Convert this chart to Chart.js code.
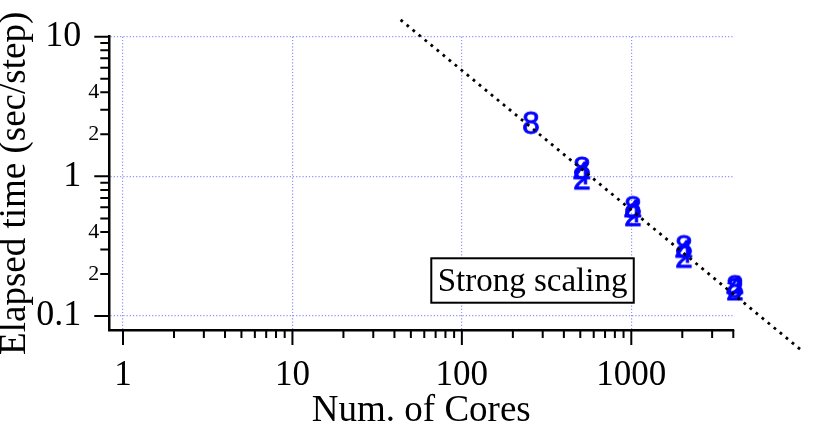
<!DOCTYPE html>
<html>
<head>
<meta charset="utf-8">
<script src="https://cdn.jsdelivr.net/npm/chart.js@4.4.1/dist/chart.umd.min.js"></script>
<style>
  html, body { margin: 0; padding: 0; background: #fff; }
</style>
</head>
<body>
<canvas id="scaling-chart" width="822" height="433"></canvas>
<script>
// Strong scaling data (elapsed time per step vs number of cores)
const cores = [256, 512, 1024, 2048, 4096];
const time8 = [2.42, 1.15, 0.60, 0.315, 0.163];
const time4 = [null, 1.06, 0.565, 0.29, 0.160];
const time2 = [null, 0.97, 0.53, 0.267, 0.156];

// ideal scaling guide line (end points)
const fitCores = [43.5, 10400];
const fitTime = [13.2, 0.0552];

const xTicks = [1, 2, 3, 4, 5, 6, 7, 8, 9,
  10, 20, 30, 40, 50, 60, 70, 80, 90,
  100, 200, 300, 400, 500, 600, 700, 800, 900,
  1000, 2000, 3000, 4000];
const yTicks = [0.1, 0.2, 0.3, 0.4, 0.5, 0.6, 0.7, 0.8, 0.9,
  1, 2, 3, 4, 5, 6, 7, 8, 9, 10];
const xLabels = { 1: '1', 10: '10', 100: '100', 1000: '1000' };
const yLabels = { 0.1: '0.1', 0.2: '2', 0.4: '4', 1: '1', 2: '2', 4: '4', 10: '10' };

const serif = '"Liberation Serif", "Times New Roman", serif';
const gridColor = 'rgb(145, 145, 255)';

function isDecade(v) {
  if (v === undefined || v === null) return false;
  const l = Math.log10(v);
  return Math.abs(l - Math.round(l)) < 1e-6;
}

function toPoints(values) {
  const pts = [];
  values.forEach(function(v, i) {
    if (v !== null) pts.push({ x: cores[i], y: v });
  });
  return pts;
}

// digit used as a marker
function digitMarker(ch) {
  const c = document.createElement('canvas');
  c.width = 28;
  c.height = 34;
  const g = c.getContext('2d');
  g.font = '32px "Liberation Sans", Arial, sans-serif';
  g.fillStyle = '#0000ff';
  g.strokeStyle = '#0000ff';
  g.lineWidth = 0.8;
  g.textAlign = 'center';
  const m = g.measureText(ch);
  const asc = m.actualBoundingBoxAscent || 23;
  const desc = m.actualBoundingBoxDescent || 0;
  const by = c.height / 2 + (asc - desc) / 2;
  g.fillText(ch, c.width / 2, by);
  g.strokeText(ch, c.width / 2, by);
  return c;
}

// tick marks and the label box
const extras = {
  id: 'extras',
  afterDatasetsDraw(chart) {
    const { ctx, chartArea } = chart;
    const x = chart.scales.x;
    const y = chart.scales.y;
    ctx.save();
    ctx.strokeStyle = '#000';
    ctx.lineWidth = 2;
    ctx.beginPath();
    xTicks.forEach(function(v) {
      const px = x.getPixelForValue(v);
      const len = isDecade(v) ? 15 : 8;
      ctx.moveTo(px, chartArea.bottom);
      ctx.lineTo(px, chartArea.bottom + len);
    });
    yTicks.forEach(function(v) {
      const py = y.getPixelForValue(v);
      const len = isDecade(v) ? 15 : 9;
      ctx.moveTo(chartArea.left, py);
      ctx.lineTo(chartArea.left - len, py);
    });
    ctx.stroke();

    // "Strong scaling" box
    const bx1 = x.getPixelForValue(66);
    const bx2 = x.getPixelForValue(1034);
    const by1 = y.getPixelForValue(0.259);
    const by2 = y.getPixelForValue(0.1245);
    ctx.fillStyle = '#fff';
    ctx.fillRect(bx1, by1, bx2 - bx1, by2 - by1);
    ctx.lineWidth = 2;
    ctx.strokeRect(bx1, by1, bx2 - bx1, by2 - by1);
    ctx.fillStyle = '#000';
    ctx.font = '33px ' + serif;
    ctx.textAlign = 'center';
    ctx.textBaseline = 'alphabetic';
    ctx.fillText('Strong scaling', (bx1 + bx2) / 2, by1 + 32.3);
    ctx.restore();
  }
};

const scalingChart = document.getElementById('scaling-chart');
new Chart(scalingChart, {
  type: 'scatter',
  data: {
    datasets: [
      {
        label: 'ideal',
        data: fitCores.map(function(c, i) { return { x: c, y: fitTime[i] }; }),
        showLine: true,
        borderColor: '#000',
        borderWidth: 2.8,
        borderDash: [2.8, 5],
        pointRadius: 0,
        clip: false
      },
      {
        label: '8',
        data: toPoints(time8),
        pointStyle: digitMarker('8'),
        pointRadius: 6,
        clip: false
      },
      {
        label: '4',
        data: toPoints(time4),
        pointStyle: digitMarker('4'),
        pointRadius: 6,
        clip: false
      },
      {
        label: '2',
        data: toPoints(time2),
        pointStyle: digitMarker('2'),
        pointRadius: 6,
        clip: false
      }
    ]
  },
  options: {
    responsive: false,
    animation: false,
    events: [],
    layout: {
      padding: { left: 0, right: 88.7, top: 36.7, bottom: 0 }
    },
    plugins: {
      legend: { display: false },
      tooltip: { enabled: false }
    },
    scales: {
      x: {
        type: 'logarithmic',
        bounds: 'data',
        min: 0.83,
        max: 4000,
        afterBuildTicks: function(scale) {
          scale.ticks = xTicks.map(function(v) { return { value: v }; });
        },
        afterFit: function(scale) { scale.height = 103; },
        grid: {
          color: function(ctx) { return ctx.tick && isDecade(ctx.tick.value) ? gridColor : 'rgba(0,0,0,0)'; },
          lineWidth: 1.2,
          drawTicks: false
        },
        border: { display: true, color: '#000', width: 2.5, dash: [1.2, 2] },
        ticks: {
          autoSkip: false,
          maxRotation: 0,
          padding: 28,
          color: '#000',
          font: { family: serif, size: 35, lineHeight: 1 },
          callback: function(v) { return xLabels[v] || ''; }
        },
        title: {
          display: true,
          text: 'Num. of Cores',
          color: '#000',
          padding: 0,
          font: { family: serif, size: 37, lineHeight: 1.2 }
        }
      },
      y: {
        type: 'logarithmic',
        bounds: 'data',
        min: 0.0794,
        max: 10,
        afterBuildTicks: function(scale) {
          scale.ticks = yTicks.map(function(v) { return { value: v }; });
        },
        afterFit: function(scale) { scale.width = 109.3; },
        grid: {
          color: function(ctx) { return ctx.tick && isDecade(ctx.tick.value) ? gridColor : 'rgba(0,0,0,0)'; },
          lineWidth: 1.2,
          drawTicks: false
        },
        border: { display: true, color: '#000', width: 2.5, dash: [1.2, 2] },
        ticks: {
          autoSkip: false,
          padding: 10,
          color: '#000',
          font: function(ctx) {
            const major = ctx.tick && isDecade(ctx.tick.value);
            return { family: serif, size: major ? 36 : 22, lineHeight: 1 };
          },
          callback: function(v) {
            const s = yLabels[v];
            if (!s) return '';
            return isDecade(v) ? s + '  ' : s;
          }
        },
        title: {
          display: true,
          text: 'Elapsed time (sec/step)',
          color: '#000',
          padding: 0,
          font: { family: serif, size: 37, lineHeight: 0.8 }
        }
      }
    }
  },
  plugins: [extras]
});
</script>
</body>
</html>
